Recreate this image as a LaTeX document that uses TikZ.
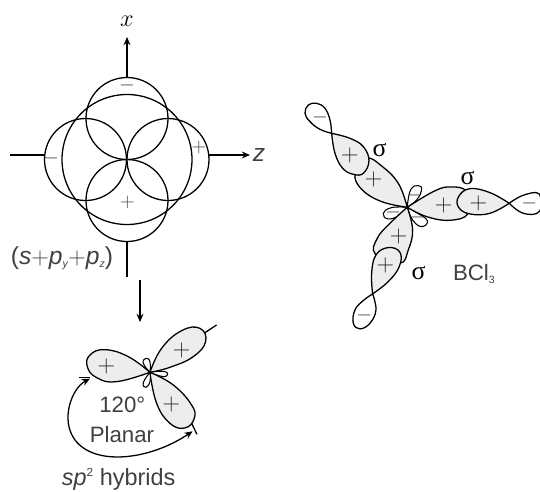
\documentclass[tikz,border=0pt]{standalone}
\usepackage{amsmath,amssymb}
\usepackage{fontspec}
\setmainfont{Liberation Sans}
\newfontfamily\sigmafont{Liberation Serif}
\usetikzlibrary{positioning, calc, arrows.meta}
\definecolor{inktext}{gray}{0.25}
\newcommand{\lowtag}[1]{\raisebox{-3pt}{\fontsize{9}{9}\selectfont\textit{#1}}}
\newcommand{\hightag}[1]{\raisebox{8pt}{\fontsize{10}{10}\selectfont #1}}
\tikzset{
  orb/.style={line width=1.1pt},
  lobe/.style={line width=1.1pt, fill=black!7},
  tinylobe/.style={line width=0.9pt, fill=white},
  axis/.style={line width=1.1pt, -{Stealth[length=7pt,width=6pt]}},
  lbl/.style={font=\fontsize{19}{21}\selectfont, text=inktext, inner sep=0pt},
  sgn/.style={font=\fontsize{20}{20}\selectfont, text=black!85, inner sep=0pt},
  signsmall/.style={font=\fontsize{16}{16}\selectfont, text=inktext, inner sep=0pt},
  sig/.style={font=\fontsize{22}{22}\sigmafont\selectfont, inner sep=0pt}
}
\begin{document}
\begin{tikzpicture}[x=0.03cm,y=-0.03cm]
            \useasboundingbox (0,0) rectangle (540,491);

            % Axes
            \coordinate (xtop) at (127,37);
            \coordinate (xlow) at (127,77);
            \coordinate (xend) at (127,277);
            \coordinate (xgap) at (127,241);
            \coordinate (zleft) at (10,155);
            \coordinate (zleftb) at (44,155);
            \coordinate (zright) at (250,155);
            \coordinate (zrightb) at (209,155);
            \draw[axis] (xlow) -- (xtop);
            \draw[orb] (xgap) -- (xend);
            \draw[orb] (zleft) -- (zleftb);
            \draw[axis] (zrightb) -- (zright);

            % s + py + pz circles
            \draw[orb] (127,159.5) circle[x radius=65, y radius=65];
            \draw[orb] (127,118.5) circle[x radius=41, y radius=41];
            \draw[orb] (127,200.5) circle[x radius=41, y radius=41];
            \draw[orb] (85.5,159.5) circle[x radius=41, y radius=41];
            \draw[orb] (168,159.5) circle[x radius=41, y radius=41];

            \node[signsmall] (mtop) at (127,85.5) {$-$};
            \node[signsmall] (mleft) at (51,158) {$-$};
            \node[signsmall] (pright) at (199,147) {$+$};
            \node[signsmall] (plow) at (127.5,202) {$+$};
            \node[font=\fontsize{22}{22}\selectfont, inner sep=0pt] (xname) at (127,21) {$x$};
            \node[lbl, font=\fontsize{21}{21}\selectfont\itshape] (zname) at (259,155) {z};
            \node[lbl, font=\fontsize{21}{21}\selectfont] (mixname) at (62,258) {(\textit{s}$+$\textit{p}\lowtag{y}$+$\textit{p}\lowtag{z})};

            % Step down
            \coordinate (stepa) at (140,280);
            \coordinate (stepb) at (140,322);
            \draw[axis] (stepa) -- (stepb);

            % sp2 hybrids
            \begin{scope}[shift={(60,310)},x=0.01cm,y=-0.01cm]
              \coordinate (hubsp) at (270,187);
              \coordinate (endtra) at (432,70);
              \coordinate (endtrb) at (470,45);
              \coordinate (endbra) at (395,340);
              \coordinate (endbrb) at (411,373);
              \coordinate (enda) at (58,202);
              \coordinate (endb) at (90,202);
              \coordinate (arca) at (90,206);
              \coordinate (arcb) at (398,364);
              \draw[orb] (endtra) -- (endtrb);
              \draw[orb] (endbra) -- (endbrb);
              \draw[orb] (enda) -- (endb);
              \draw[lobe] plot[smooth,tension=.75] coordinates {(270,187) (205,140) (135,119) (90,135) (82,170) (110,203) (170,215) (270,187)};
              \draw[lobe] plot[smooth,tension=.75] coordinates {(270,187) (305,115) (365,62) (420,55) (437,95) (400,140) (330,172) (270,187)};
              \draw[lobe] plot[smooth,tension=.75] coordinates {(270,187) (340,225) (395,285) (403,325) (375,354) (330,340) (290,280) (270,187)};
              \draw[tinylobe] plot[smooth,tension=.8] coordinates {(270,187) (250,160) (258,145) (270,155) (270,187)};
              \draw[tinylobe] plot[smooth,tension=.8] coordinates {(270,187) (305,184) (323,190) (310,200) (270,187)};
              \draw[tinylobe] plot[smooth,tension=.8] coordinates {(270,187) (270,215) (258,232) (250,218) (270,187)};
              \draw[orb, {Stealth[length=7pt,width=6pt]}-{Stealth[length=7pt,width=6pt]}] (arca) .. controls (35,235) and (0,330) .. (45,390) .. controls (105,470) and (270,450) .. (arcb);
              \node[sgn] (psa) at (139,168) {$+$};
              \node[sgn] (psb) at (365,120) {$+$};
              \node[sgn] (psc) at (334,282) {$+$};
              \node[lbl] (angname) at (187,285) {120°};
              \node[lbl] (planname) at (186,375) {Planar};
              \node[lbl, font=\fontsize{20}{20}\selectfont] (hybname) at (176,508) {\textit{sp}\hightag{2} hybrids};
            \end{scope}

            % BCl3
            \begin{scope}[shift={(300,90)},x=0.01cm,y=-0.01cm]
              % small back lobes
              \draw[tinylobe] plot[smooth,tension=.8] coordinates {(322,352) (332,300) (355,287) (365,300) (350,330) (322,352)};
              \draw[tinylobe] plot[smooth,tension=.8] coordinates {(322,352) (275,353) (250,370) (265,387) (300,375) (322,352)};
              \draw[tinylobe] plot[smooth,tension=.8] coordinates {(322,352) (350,368) (382,392) (365,410) (338,390) (322,352)};
              % B lobes
              \draw[lobe] plot[smooth,tension=.7] coordinates {(322,352) (295,280) (245,228) (200,205) (165,250) (185,298) (245,335) (322,352)};
              \draw[lobe] plot[smooth,tension=.7] coordinates {(322,352) (400,305) (450,291) (500,305) (505,370) (450,391) (380,380) (322,352)};
              \draw[lobe] plot[smooth,tension=.7] coordinates {(322,352) (338,420) (325,480) (300,520) (226,492) (232,445) (270,400) (322,352)};
              % Cl lobes
              \draw[lobe] plot[smooth,tension=.7] coordinates {(95,130) (150,145) (190,170) (207,212) (190,250) (160,253) (128,235) (105,190) (95,130)};
              \draw[lobe] plot[smooth,tension=.7] coordinates {(628,340) (570,308) (510,296) (476,320) (476,352) (510,372) (570,370) (628,340)};
              \draw[lobe] plot[smooth,tension=.7] coordinates {(218,612) (215,550) (228,495) (265,473) (300,487) (298,530) (265,575) (218,612)};
              % Cl outer lobes
              \draw[orb,fill=white] plot[smooth,tension=.7] coordinates {(95,130) (60,118) (30,95) (15,70) (25,45) (50,40) (75,55) (90,90) (95,130)};
              \draw[orb,fill=white] plot[smooth,tension=.7] coordinates {(628,340) (670,316) (718,312) (718,365) (670,370) (628,340)};
              \draw[orb,fill=white] plot[smooth,tension=.7] coordinates {(218,612) (228,660) (210,700) (180,717) (160,700) (165,660) (190,632) (218,612)};
              % Signs
              \node[sgn] (pua) at (150,197) {$+$};
              \node[sgn] (pub) at (221,268) {$+$};
              \node[sgn] (pra) at (431,347) {$+$};
              \node[sgn] (prb) at (535,339) {$+$};
              \node[sgn] (pla) at (296,439) {$+$};
              \node[sgn] (plb) at (256,528) {$+$};
              \node[signsmall] (mua) at (60,83) {$-$};
              \node[signsmall] (mra) at (688,340) {$-$};
              \node[signsmall] (mla) at (193,677) {$-$};
              \node[signsmall] (msa) at (342,315) {$-$};
              \node[signsmall] (msb) at (280,367) {$-$};
              \node[signsmall] (msc) at (352,381) {$-$};
              \node[sig] (siga) at (239,180) {σ};
              \node[sig] (sigb) at (503,264) {σ};
              \node[sig] (sigc) at (356,548) {σ};
              \node[lbl] (bclname) at (522,552) {BCl\lowtag{\upshape 3}};
            \end{scope}
\end{tikzpicture}
\end{document}
